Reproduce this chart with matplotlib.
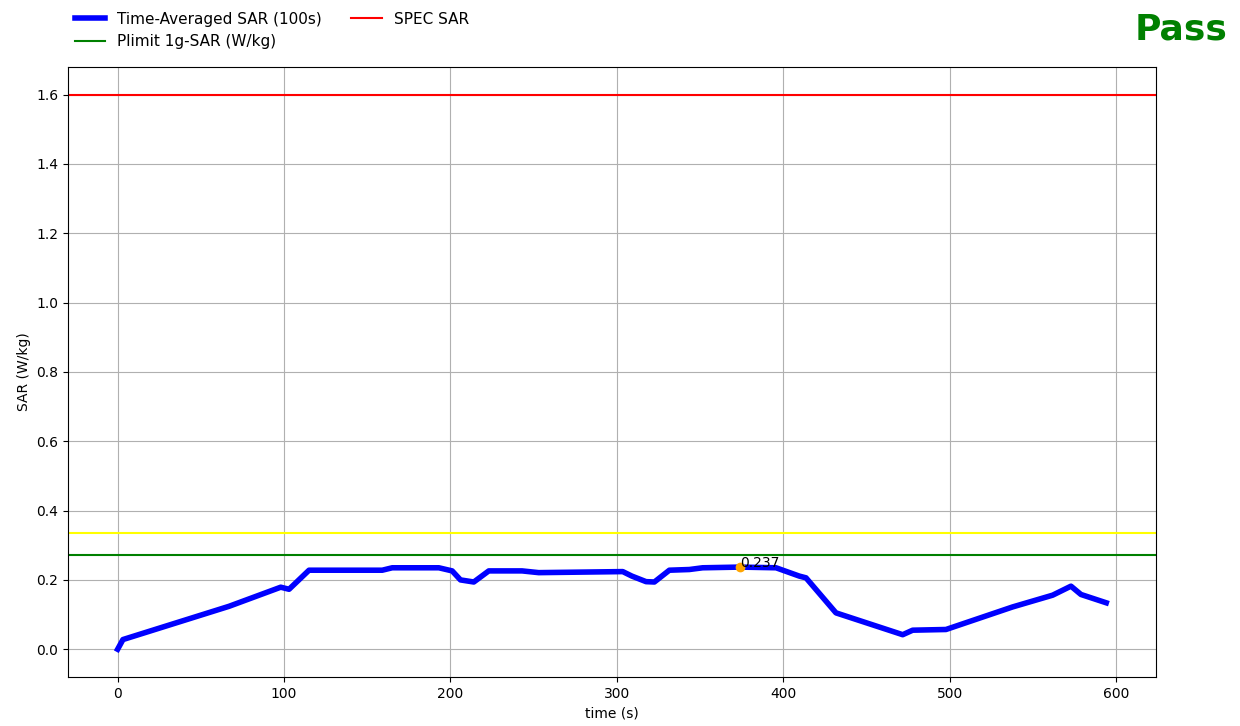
import matplotlib
matplotlib.use("Agg")
import matplotlib.pyplot as plt

time_s = [0, 3.2, 67, 98, 103, 115, 159, 165, 193, 201, 206, 214, 223, 243, 253,
          303.5, 309, 317.5, 322.5, 331.5, 343.5, 351.5, 374, 395.6, 409.6, 413.6,
          431.6, 471.7, 477.7, 497.7, 537.7, 561.8, 572.8, 578.8, 594]
sar = [0.0, 0.028, 0.124, 0.179, 0.173, 0.228, 0.228, 0.235, 0.235, 0.226, 0.2,
       0.194, 0.226, 0.226, 0.221, 0.224, 0.211, 0.195, 0.194, 0.228, 0.23, 0.235,
       0.237, 0.235, 0.211, 0.206, 0.105, 0.042, 0.055, 0.057, 0.122, 0.156,
       0.182, 0.158, 0.134]
spec_sar = 1.6
plimit = 0.272
yellow_level = 0.336
max_t, max_v = 374, 0.237

fig = plt.figure(figsize=(12.4, 7.26), dpi=100)
ax = fig.add_axes([0.055, 0.0675, 0.877, 0.8405])
l_ta, = ax.plot(time_s, sar, color="blue", lw=4, label="Time-Averaged SAR (100s)")
l_spec = ax.axhline(spec_sar, color="red", lw=1.5, label="SPEC SAR")
l_pl = ax.axhline(plimit, color="green", lw=1.5, label="Plimit 1g-SAR (W/kg)")
ax.axhline(yellow_level, color="yellow", lw=1.5)
ax.plot([max_t], [max_v], "o", color="orange", ms=6)
ax.annotate(f"{max_v:.3f}", (max_t, max_v), fontsize=10)
ax.set_xlabel("time (s)")
ax.set_ylabel("SAR (W/kg)")
ax.grid(True)
ax.set_xlim(-29.7, 623.7)
ax.set_ylim(-0.08, 1.68)
handles = [l_ta, l_pl, l_spec]
fig.legend(handles, [h.get_label() for h in handles], loc="upper left",
           bbox_to_anchor=(0.049, 1.003), ncol=2, frameon=False, fontsize=11,
           labelspacing=0.5, columnspacing=1.9)
fig.text(0.99, 0.96, "Pass", color="green", fontsize=26, fontweight="bold",
         ha="right", va="center")
fig.savefig("out.png")
